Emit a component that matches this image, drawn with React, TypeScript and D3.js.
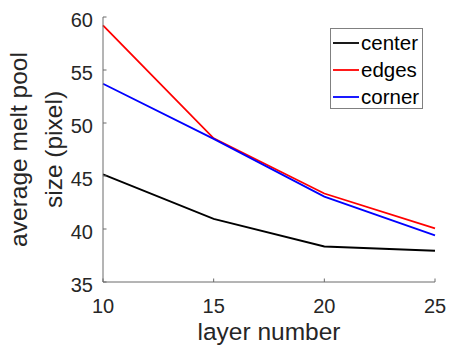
import React from "react";
import * as d3 from "d3";

const layers = [10, 15, 20, 25];
const center = [45.15, 40.95, 38.35, 37.95];
const edges = [59.2, 48.55, 43.35, 40.05];
const corner = [53.7, 48.5, 43.05, 39.4];
const seriesNames = ["center", "edges", "corner"];
const seriesColors = ["#000000", "#ff0000", "#0000ff"];
const xTicks = [10, 15, 20, 25];
const yTicks = [35, 40, 45, 50, 55, 60];

const W = 449, H = 354;
const M = { left: 103, right: 435, top: 17, bottom: 282 };
const axisColor = "#262626";
const axisLine = "#6a6a6a";
const font = "Arial, 'Liberation Sans', Helvetica, sans-serif";

export default function App() {
  const x = d3.scaleLinear().domain([10, 25]).range([M.left, M.right]);
  const y = d3.scaleLinear().domain([35, 60]).range([M.bottom, M.top]);
  const line = d3.line<[number, number]>().x(d => x(d[0])).y(d => y(d[1]));
  const series = [center, edges, corner];

  return (
    <svg width={W} height={H} style={{ position: "absolute", left: 0, top: 0, background: "#fff" }}>
      <rect width={W} height={H} fill="#fff" />
      {series.map((s, i) => (
        <path key={i} d={line(layers.map((l, j) => [l, s[j]] as [number, number])) || ""}
          fill="none" stroke={seriesColors[i]} strokeWidth={1.8} />
      ))}
      {/* axes */}
      <line x1={M.left} x2={M.left} y1={M.top} y2={M.bottom} stroke={axisLine} strokeWidth={1} />
      <line x1={M.left} x2={M.right} y1={M.bottom} y2={M.bottom} stroke={axisLine} strokeWidth={1} />
      {yTicks.map(t => (
        <g key={"y" + t}>
          <line x1={M.left} x2={M.left + 3.5} y1={y(t)} y2={y(t)} stroke={axisLine} />
          <text x={M.left - 10} y={y(t) + 9.5} textAnchor="end" fontFamily={font} fontSize={20} fill={axisColor}>{t}</text>
        </g>
      ))}
      {xTicks.map(t => (
        <g key={"x" + t}>
          <line x1={x(t)} x2={x(t)} y1={M.bottom} y2={M.bottom - 3.5} stroke={axisLine} />
          <text x={x(t)} y={313} textAnchor="middle" fontFamily={font} fontSize={20} fill={axisColor}>{t}</text>
        </g>
      ))}
      <text x={(M.left + M.right) / 2} y={340} textAnchor="middle" fontFamily={font} fontSize={24.5} fill={axisColor}>layer number</text>
      <g transform={`translate(27, ${(M.top + M.bottom) / 2}) rotate(-90)`}>
        <text x={0} y={0} textAnchor="middle" fontFamily={font} fontSize={24.5} fill={axisColor}>average melt pool</text>
      </g>
      <g transform={`translate(62, ${(M.top + M.bottom) / 2}) rotate(-90)`}>
        <text x={0} y={0} textAnchor="middle" fontFamily={font} fontSize={24.5} fill={axisColor}>size (pixel)</text>
      </g>
      {/* legend */}
      <rect x={330.5} y={28.5} width={92} height={80} fill="#fff" stroke="#808080" strokeWidth={1} />
      {seriesNames.map((n, i) => (
        <g key={n}>
          <line x1={333} x2={359} y1={43 + i * 27} y2={43 + i * 27} stroke={seriesColors[i]} strokeWidth={1.8} />
          <text x={361} y={43 + i * 27 + 7} fontFamily={font} fontSize={20.5} fill="#000">{n}</text>
        </g>
      ))}
    </svg>
  );
}
